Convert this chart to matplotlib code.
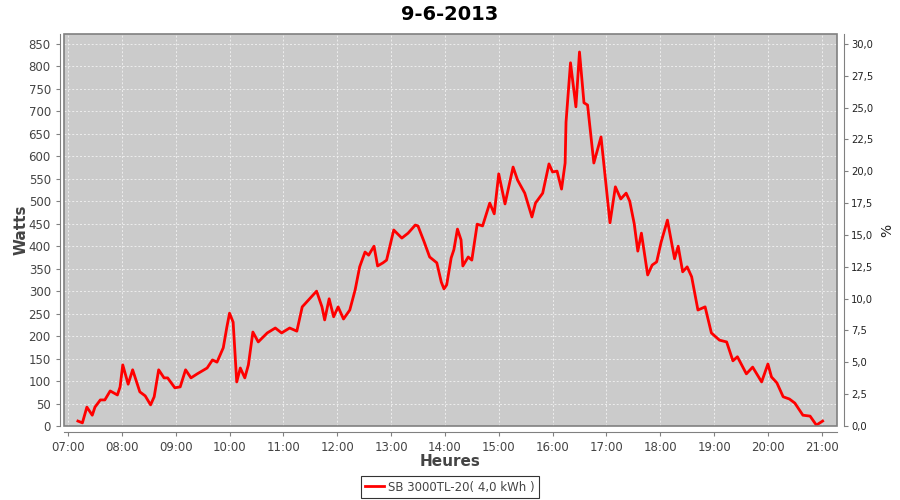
import matplotlib
matplotlib.use('Agg')
import matplotlib.pyplot as plt
from matplotlib.ticker import FuncFormatter
from matplotlib.patches import Rectangle
import numpy as np

times = ["07:11","07:16","07:21","07:27","07:30","07:36","07:41","07:47","07:55","07:58",
         "08:01","08:07","08:12","08:20","08:26","08:32","08:36","08:41","08:47","08:51","08:59",
         "09:05","09:11","09:17","09:24","09:35","09:41","09:46","09:53","09:57",
         "10:00","10:04","10:08","10:12","10:17","10:21","10:26","10:32","10:42","10:51","10:58",
         "11:07","11:15","11:17","11:21","11:26","11:30","11:37","11:43","11:46","11:51","11:56",
         "12:01","12:07","12:14","12:20","12:25","12:31","12:35","12:41","12:45","12:51","12:55",
         "13:03","13:12","13:19","13:27","13:30","13:37","13:43","13:51","13:56","13:59",
         "14:02","14:07","14:10","14:14","14:18","14:20","14:26","14:30","14:36","14:42","14:50","14:55",
         "15:00","15:07","15:16","15:21","15:29","15:37","15:41","15:49","15:56",
         "16:00","16:05","16:10","16:14","16:15","16:20","16:26","16:30","16:35","16:39","16:46","16:54",
         "17:04","17:10","17:16","17:22","17:26","17:31","17:35","17:39","17:46","17:51","17:56",
         "18:01","18:08","18:16","18:20","18:25","18:30","18:35","18:42","18:50","18:57",
         "19:06","19:14","19:21","19:26","19:36","19:43","19:53",
         "20:00","20:04","20:10","20:17","20:24","20:30","20:39","20:47","20:54","21:01"]
watts = [11, 7, 42, 24, 42, 58, 58, 78, 69, 87,
         136, 93, 125, 76, 67, 47, 65, 125, 107, 107, 85,
         87, 125, 107, 116, 129, 147, 142, 174, 220,
         251, 231, 98, 129, 107, 136, 209, 187, 207, 218, 207,
         218, 211, 229, 265, 276, 285, 300, 265, 236, 283, 243,
         265, 238, 258, 303, 354, 387, 380, 400, 356, 363, 369,
         436, 418, 429, 447, 445, 409, 376, 363, 320, 305,
         314, 374, 392, 438, 414, 356, 376, 369, 449, 445, 496, 472,
         561, 494, 576, 547, 518, 465, 496, 518, 583,
         565, 567, 527, 585, 676, 808, 710, 832, 719, 714, 585, 643,
         452, 532, 505, 518, 500, 450, 389, 429, 336, 358, 365,
         409, 458, 372, 400, 343, 354, 332, 258, 265, 207,
         191, 187, 145, 154, 116, 131, 98,
         138, 109, 96, 65, 60, 51, 24, 22, 2, 11]
hour_ticks = list(range(7, 22))
watt_ticks = list(range(0, 851, 50))
pct_ticks = np.arange(0, 30.01, 2.5)
series_name = "SB 3000TL-20( 4,0 kWh )"
title = "9-6-2013"

hours = [int(t[:2]) + int(t[3:]) / 60.0 for t in times]

grey = '#444444'
fig = plt.figure(figsize=(9, 5), dpi=100)
ax = fig.add_axes([64/900, 1-426/500, (837-64)/900, (426-34)/500])
ax.set_facecolor('#cbcbcb')
ax.plot(hours, watts, color='#ff0000', linewidth=2.0, label=series_name, solid_joinstyle='round')

ax.set_xlim(6 + 55.5/60, 21 + 17/60)
ax.set_ylim(0, 872)
ax.set_xticks(hour_ticks)
ax.xaxis.set_major_formatter(FuncFormatter(lambda v, p: "%02d:00" % int(round(v))))
ax.set_yticks(watt_ticks)
ax.grid(True, color='#eeeeee', linestyle=(0, (2, 2)), linewidth=0.7)
ax.set_axisbelow(True)

# plot outline + offset axis lines (JFreeChart look)
for s in ['top', 'right', 'left', 'bottom']:
    ax.spines[s].set_visible(False)
ax.add_patch(Rectangle((0, 0), 1, 1, transform=ax.transAxes, fill=False,
                       edgecolor='#808080', linewidth=1.2, clip_on=False, zorder=5))
ax.spines['left'].set_visible(True)
ax.spines['left'].set_position(('outward', 3))
ax.spines['left'].set_color('#808080')
ax.spines['bottom'].set_visible(True)
ax.spines['bottom'].set_position(('outward', 4))
ax.spines['bottom'].set_color('#808080')
ax.tick_params(axis='both', colors='#808080', labelcolor=grey, labelsize=8.5, length=3, width=0.8)

ax2 = ax.twinx()
ax2.set_ylim(0, 872 * 30 / 850)
ax2.set_yticks(pct_ticks)
ax2.yaxis.set_major_formatter(FuncFormatter(lambda v, p: ("%.1f" % v).replace('.', ',')))
for s in ['top', 'left', 'bottom']:
    ax2.spines[s].set_visible(False)
ax2.spines['right'].set_position(('outward', 5))
ax2.spines['right'].set_color('#808080')
ax2.tick_params(axis='y', colors='#808080', labelcolor='#222222', labelsize=7.2,
                length=3, width=0.8, pad=2)
ax2.set_ylabel('%', fontsize=10, color='#222222', labelpad=5)

ax.set_xlabel('Heures', fontsize=11, fontweight='bold', color=grey, labelpad=0)
ax.set_ylabel('Watts', fontsize=11, fontweight='bold', color=grey, labelpad=0)
fig.suptitle(title, fontsize=14, fontweight='bold', y=0.99, va='top')

leg = ax.legend(loc='center', bbox_to_anchor=(0.5, 1 - 487/500), bbox_transform=fig.transFigure,
                fontsize=8.5, frameon=True, fancybox=False, handlelength=1.6, handletextpad=0.3,
                borderpad=0.35, borderaxespad=0)
leg.get_frame().set_edgecolor('black')
leg.get_frame().set_linewidth(0.8)
for t in leg.get_texts():
    t.set_color(grey)

fig.savefig('out.png', dpi=100)
